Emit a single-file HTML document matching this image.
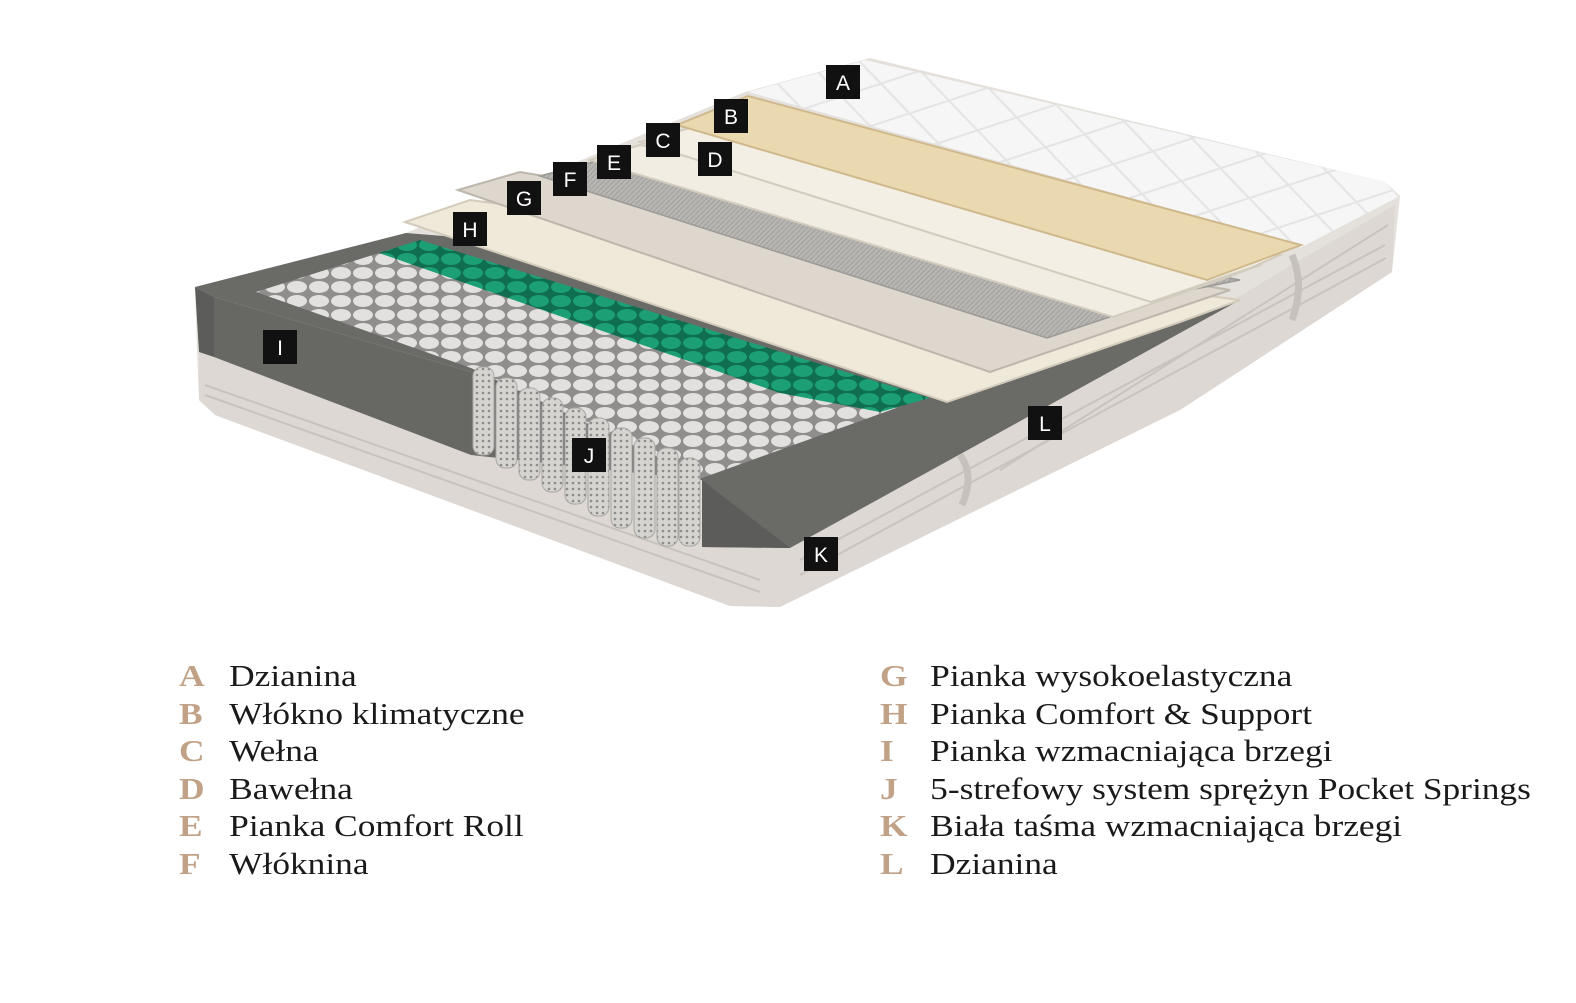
<!DOCTYPE html>
<html><head><meta charset="utf-8"><style>
html,body{margin:0;padding:0;background:#fff;width:1576px;height:1003px;overflow:hidden}
.leg{position:absolute;font-family:"Liberation Serif",serif;font-size:31px;color:#1a1a1a;line-height:37.5px;transform:scaleX(1.14);transform-origin:0 0}
.leg b{display:inline-block;color:#c1a287;width:44px;font-weight:bold}
</style></head><body>
<svg width="1576" height="1003" viewBox="0 0 1576 1003" style="position:absolute;left:0;top:0">
<defs>
<pattern id="pw" width="22" height="14" patternUnits="userSpaceOnUse">
<rect width="22" height="14" fill="#8f8e8c"/>
<ellipse cx="11" cy="7" rx="10" ry="6" fill="#e2e1df"/>
</pattern>
<pattern id="pg" width="22" height="14" patternUnits="userSpaceOnUse">
<rect width="22" height="14" fill="#0e6e4f"/>
<ellipse cx="11" cy="7" rx="10" ry="6" fill="#1c9f74"/>
</pattern>
<pattern id="qt" width="70" height="44" patternUnits="userSpaceOnUse" patternTransform="rotate(14)">
<rect width="70" height="44" fill="#f6f6f6"/>
<path d="M0 22 L35 0 L70 22 L35 44 Z" fill="none" stroke="#e4e4e4" stroke-width="2"/>
</pattern>
<pattern id="st" width="5" height="5" patternUnits="userSpaceOnUse">
<rect width="5" height="5" fill="#b8b6b3"/><path d="M0 5 L5 0" stroke="#a19f9c" stroke-width="1"/>
</pattern>
<pattern id="col" width="6" height="6" patternUnits="userSpaceOnUse">
<rect width="6" height="6" fill="#d6d4d1"/><circle cx="3" cy="3" r="1.3" fill="#8e8c8a"/>
</pattern>
</defs>
<polygon points="195,287 406,233 745,92 870,58 1385,182 1400,196 1392,272 1180,410 780,607 730,606 215,415 199,400 197,350" fill="#e4e0dc"/>
<polygon points="199,350 790,548 1180,332 1300,260 1395,205 1392,272 1180,410 780,607 730,606 215,415 199,400" fill="#ddd8d3"/>
<path d="M205,385 L760,580 M205,395 L760,592 M800,560 L1385,245 M800,575 L1386,258 M1000,470 L1388,225" stroke="#c9c3be" stroke-width="2" fill="none"/>
<path d="M960,455 Q975,475 962,505 M1292,255 Q1305,285 1292,320" stroke="#c7c1bb" stroke-width="7" fill="none"/>
<polygon points="748,92 865,60 1385,182 1398,197 1300,248 1301,245" fill="url(#qt)"/>
<polygon points="195,287 406,233 1240,300 1180,333 790,548 702,547 702,480 471,455 471,372 214,297" fill="#6a6a67"/>
<polygon points="214,297 471,372 471,455 214,357" fill="#676764"/>
<polygon points="195,287 214,297 214,357 199,352" fill="#5c5c5a"/>
<polygon points="702,480 790,548 702,547" fill="#5c5c5a"/>
<polygon points="256,292 379,253 910,403 702,478 471,368" fill="url(#pw)"/>
<polygon points="379,253 420,240 930,398 880,412 780,393" fill="url(#pg)"/>
<g fill="url(#col)" stroke="#a9a7a4" stroke-width="1">
<rect x="473" y="367" width="21" height="88" rx="9"/>
<rect x="496" y="378" width="21" height="90" rx="9"/>
<rect x="519" y="388" width="21" height="92" rx="9"/>
<rect x="542" y="398" width="21" height="94" rx="9"/>
<rect x="565" y="408" width="21" height="96" rx="9"/>
<rect x="588" y="418" width="21" height="98" rx="9"/>
<rect x="611" y="428" width="21" height="100" rx="9"/>
<rect x="634" y="438" width="21" height="100" rx="9"/>
<rect x="657" y="448" width="21" height="98" rx="9"/>
<rect x="679" y="458" width="21" height="88" rx="9"/>
</g>
<polygon points="405,222 947,402 1180,322 1240,300 470,200" fill="#efe9da" stroke="#d3ccbc" stroke-width="2"/>
<polygon points="458,190 990,372 1180,307 1230,290 520,172" fill="#ddd7cd" stroke="#bcb6ac" stroke-width="2"/>
<polygon points="540,176 1047,338 1190,290 1240,280 600,160" fill="url(#st)" stroke="#9c9a97" stroke-width="1.5"/>
<polygon points="590,160 1113,317 1220,280 1260,265 640,145" fill="#f1ede3" stroke="#d2ccbe" stroke-width="2"/>
<polygon points="640,142 1151,302 1250,268 1280,255 690,128" fill="#f3efe5" stroke="#d2ccbe" stroke-width="2"/>
<polygon points="677,125 748,96 1301,245 1207,280" fill="#ead9b0" stroke="#cfb88c" stroke-width="2"/>
<g fill="#111"><rect x="826" y="65" width="34" height="34"/><rect x="714" y="99" width="34" height="34"/><rect x="646" y="123" width="34" height="34"/><rect x="698" y="142" width="34" height="34"/><rect x="597" y="145" width="34" height="34"/><rect x="553" y="162" width="34" height="34"/><rect x="507" y="181" width="34" height="34"/><rect x="453" y="212" width="34" height="34"/><rect x="263" y="330" width="34" height="34"/><rect x="572" y="438" width="34" height="34"/><rect x="804" y="537" width="34" height="34"/><rect x="1028" y="406" width="34" height="34"/></g>
<g fill="#fff" font-family="Liberation Sans,sans-serif" font-size="21" text-anchor="middle">
<text x="843" y="90">A</text><text x="731" y="124">B</text><text x="663" y="148">C</text><text x="715" y="167">D</text><text x="614" y="170">E</text><text x="570" y="187">F</text><text x="524" y="206">G</text><text x="470" y="237">H</text><text x="280" y="355">I</text><text x="589" y="463">J</text><text x="821" y="562">K</text><text x="1045" y="431">L</text>
</g>
</svg>
<div class="leg" style="left:179px;top:657px">
<div><b>A</b>Dzianina</div><div><b>B</b>Włókno klimatyczne</div><div><b>C</b>Wełna</div><div><b>D</b>Bawełna</div><div><b>E</b>Pianka Comfort Roll</div><div><b>F</b>Włóknina</div>
</div>
<div class="leg" style="left:880px;top:657px">
<div><b>G</b>Pianka wysokoelastyczna</div><div><b>H</b>Pianka Comfort &amp; Support</div><div><b>I</b>Pianka wzmacniająca brzegi</div><div><b>J</b>5-strefowy system sprężyn Pocket Springs</div><div><b>K</b>Biała taśma wzmacniająca brzegi</div><div><b>L</b>Dzianina</div>
</div>
</body></html>
